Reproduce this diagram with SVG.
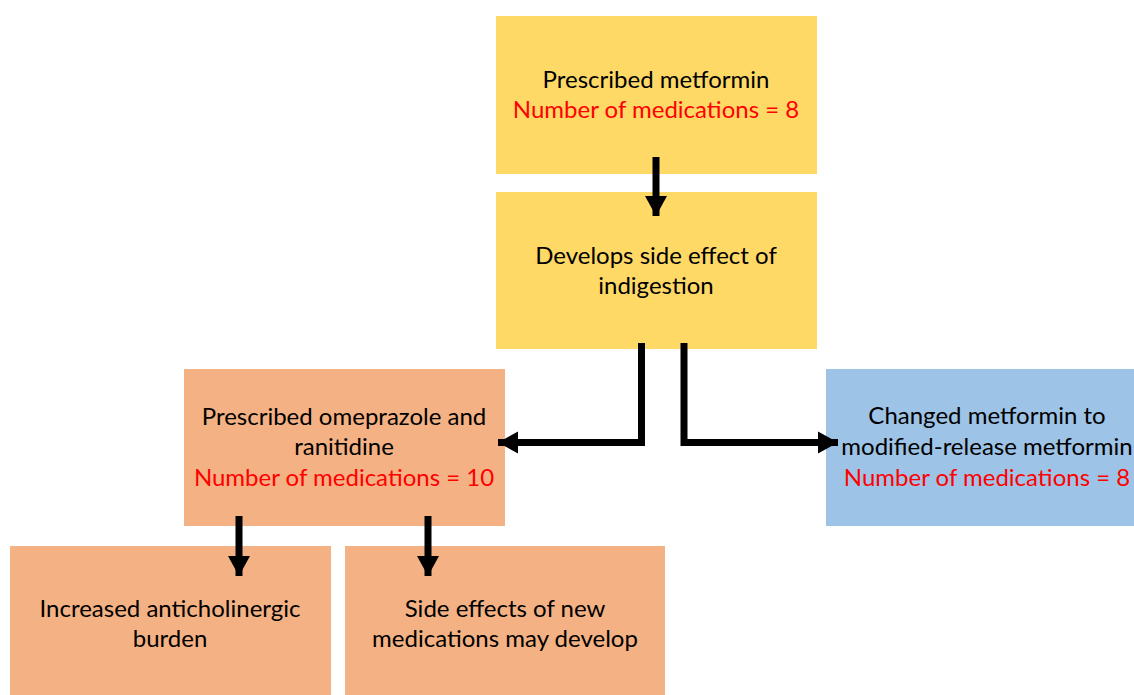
<svg xmlns="http://www.w3.org/2000/svg" width="1134" height="695" viewBox="0 0 1134 695">
<defs>
<style>
.t{font-family:Lato,"Open Sans","Liberation Sans",sans-serif;font-size:24px;fill:#000;text-anchor:middle}
.r{fill:#FF0000}
.y{fill:#FFD966}
.o{fill:#F4B183}
.b{fill:#9DC3E6}
.c{fill:none;stroke:#000;stroke-width:7}
</style>
<marker id="ah" markerUnits="userSpaceOnUse" markerWidth="22" markerHeight="24" viewBox="0 0 22 24" refX="20" refY="12" orient="auto">
<path d="M0,1 L20,12 L0,23 Z" fill="#000"/>
</marker>
</defs>
<rect width="1134" height="695" fill="#fff"/>
<g id="n1"><rect class="y" x="496" y="16" width="321" height="158"/>
<text class="t" x="656" y="88">Prescribed metformin</text>
<text class="t r" x="656" y="118">Number of medications = 8</text></g>
<g id="n2"><rect class="y" x="496" y="192" width="321" height="157"/>
<text class="t" x="656" y="264">Develops side effect of</text>
<text class="t" x="656" y="294">indigestion</text></g>
<g id="n3"><rect class="o" x="184" y="369" width="321" height="157"/>
<text class="t" x="344" y="425">Prescribed omeprazole and</text>
<text class="t" x="344" y="455">ranitidine</text>
<text class="t r" x="344" y="486">Number of medications = 10</text></g>
<g id="n4"><rect class="b" x="826" y="369" width="322" height="157"/>
<text class="t" x="987" y="424">Changed metformin to</text>
<text class="t" x="987" y="455">modified-release metformin</text>
<text class="t r" x="987" y="486">Number of medications = 8</text></g>
<g id="n5"><rect class="o" x="10" y="546" width="321" height="149"/>
<text class="t" x="170" y="617">Increased anticholinergic</text>
<text class="t" x="170" y="647">burden</text></g>
<g id="n6"><rect class="o" x="345" y="546" width="320" height="149"/>
<text class="t" x="505" y="617">Side effects of new</text>
<text class="t" x="505" y="647">medications may develop</text></g>
<g id="connectors">
<path class="c" d="M656,157 V216" marker-end="url(#ah)"/>
<path class="c" d="M641.5,343 V442.5 H498" marker-end="url(#ah)"/>
<path class="c" d="M684,343 V442.5 H838" marker-end="url(#ah)"/>
<path class="c" d="M239,516 V576" marker-end="url(#ah)"/>
<path class="c" d="M428,516 V576" marker-end="url(#ah)"/>
</g>
</svg>
